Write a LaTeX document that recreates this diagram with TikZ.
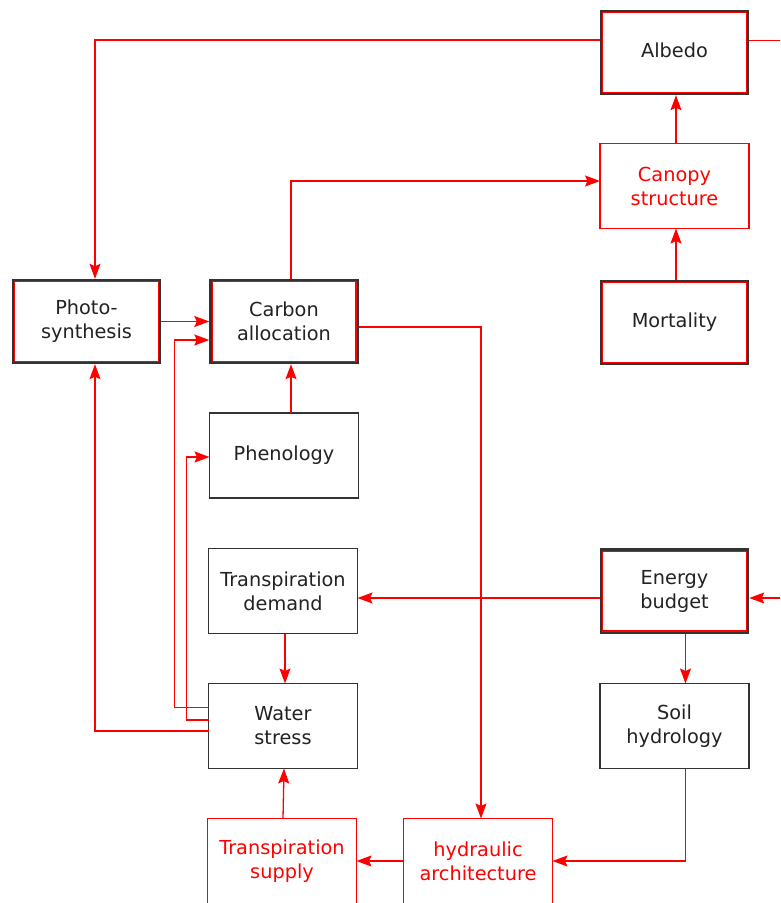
\documentclass[tikz,border=0pt]{standalone}
\usepackage{fontspec}
\setmainfont{DejaVu Sans}
\usetikzlibrary{arrows.meta,calc}
\definecolor{boxgray}{HTML}{333333}
\definecolor{txtgray}{HTML}{222222}
\tikzset{
  box/.style={rectangle, minimum width=149pt, minimum height=85pt, align=center,
    font=\fontsize{19.3}{24}\selectfont, inner sep=0pt, outer sep=0pt, fill=white},
  blackbox/.style={box, draw=boxgray, line width=1.5pt, text=txtgray},
  redbox/.style={box, draw=red, line width=1.3pt, text=red},
  keybox/.style={box, minimum width=144pt, minimum height=80pt, draw=red, line width=1.1pt, text=txtgray},
  link/.style={draw=red, line width=1.3pt, -{Stealth[length=15pt,width=11pt,inset=2.5pt]}},
  plain/.style={draw=red, line width=1.3pt}
}
\begin{document}
\begin{tikzpicture}[x=1pt, y=-1pt]
\useasboundingbox (0,0) rectangle (780,903);
\clip (0,0) rectangle (780,903);

% boxes
\node[keybox]   (albedo)    at (674.5, 52.5) {\raisebox{5pt}{Albedo}};
\node[redbox]   (canopy)    at (674.5, 186)  {Canopy\\structure};
\node[keybox]   (mortality) at (674.5, 322.5) {Mortality};
\node[keybox]   (photo)     at (86.5, 321.5) {Photo-\\synthesis};
\node[keybox]   (carbon)    at (284, 321.5)  {Carbon\\allocation};
\node[blackbox] (phenology) at (284, 455.5)  {Phenology};
\node[blackbox] (tdemand)   at (283, 591)    {Transpiration\\demand};
\node[keybox]   (energy)    at (674.5, 591)  {Energy\\budget};
\node[blackbox] (wstress)   at (283, 726)    {Water\\stress};
\node[blackbox] (soil)      at (674.5, 726)  {Soil\\hydrology};
\node[redbox]   (tsupply)   at (282, 861)    {Transpiration\\supply};
\node[redbox]   (hydraulic) at (478, 861)    {hydraulic\\architecture};

% outer dark frame of the key boxes
\foreach \n in {albedo, mortality, photo, carbon, energy}{
  \draw[boxgray, line width=2.2pt]
    ([shift={(-1.6pt,1.6pt)}]\n.north west) rectangle ([shift={(1.6pt,-1.6pt)}]\n.south east);
}

% loose ends leaving the right edge
\coordinate (outA) at (800, 40.5);
\coordinate (outE) at (800, 598);

% connectors
\draw[link] ([yshift=12.5pt,xshift=-2.7pt]albedo.west) -| ([xshift=8.5pt,yshift=2.7pt]photo.north);
\draw[plain] ([yshift=12pt,xshift=2.7pt]albedo.east) -- (outA);
\draw[link] ([xshift=1.5pt]canopy.north) -- ([xshift=1.5pt,yshift=-2.7pt]albedo.south);
\draw[link] ([xshift=1.5pt,yshift=2.7pt]mortality.north) -- ([xshift=1.5pt]canopy.south);
\draw[link] ([xshift=7pt,yshift=2.7pt]carbon.north) |- ([yshift=5pt]canopy.west);
\draw[link] ([xshift=2.7pt]photo.east) -- ([xshift=-2.7pt]carbon.west);
\draw[link] ([yshift=-5.5pt,xshift=2.7pt]carbon.east) -| ([xshift=3pt]hydraulic.north);
\draw[link] ([xshift=7pt]phenology.north) -- ([xshift=7pt,yshift=-2.7pt]carbon.south);
\draw[link] ([yshift=18.3pt]wstress.west) -| ([xshift=-37.5pt,yshift=-18.5pt]carbon.west)
            -- ([xshift=-2.7pt,yshift=-18.5pt]carbon.west);
\draw[link] ([yshift=6pt]wstress.west) -| ([xshift=-23pt,yshift=-1.5pt]phenology.west)
            -- ([yshift=-1.5pt]phenology.west);
\draw[link] ([yshift=-5pt]wstress.west) -| ([xshift=8.5pt,yshift=-2.7pt]photo.south);
\draw[link] ([yshift=-7pt,xshift=-2.7pt]energy.west) -- ([yshift=-7pt]tdemand.east);
\draw[link] (outE) -- ([yshift=-7pt,xshift=2.7pt]energy.east);
\draw[link] ([xshift=2pt]tdemand.south) -- ([xshift=2pt]wstress.north);
\draw[link] ([xshift=11pt,yshift=-2.7pt]energy.south) -- ([xshift=11pt]soil.north);
\draw[link] ([xshift=11pt]soil.south) |- (hydraulic.east);
\draw[link] (hydraulic.west) -- (tsupply.east);
\draw[link] ([xshift=1pt]tsupply.north) -- ([xshift=1pt]wstress.south);
\end{tikzpicture}
\end{document}
